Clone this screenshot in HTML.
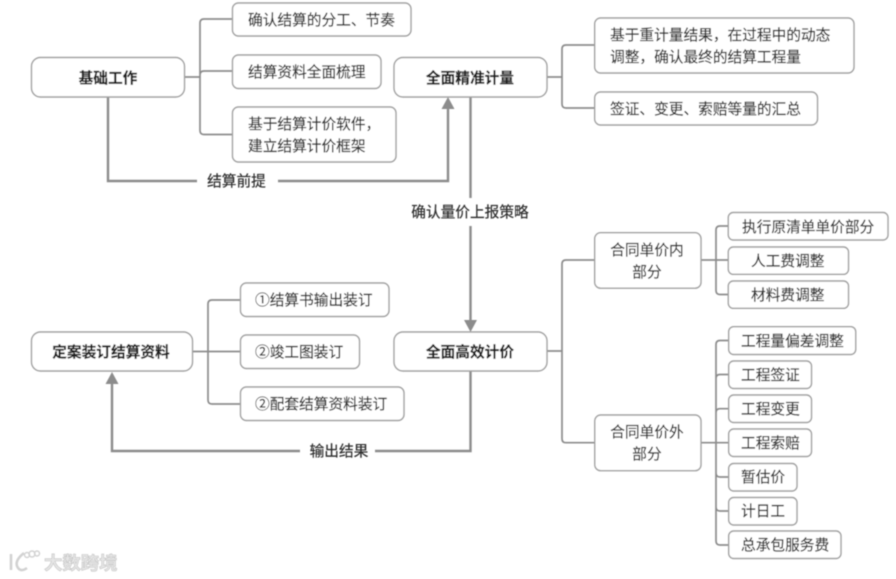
<!DOCTYPE html>
<html lang="zh"><head><meta charset="utf-8">
<style>
html,body{margin:0;padding:0;background:#fff;width:896px;height:579px;overflow:hidden}
svg{display:block}
text{font-family:"Liberation Sans","Noto Sans CJK SC",sans-serif;font-size:14.7px;fill:#2e2e2e;stroke:#2e2e2e;stroke-width:.2;text-anchor:middle;dominant-baseline:central;transform:translateY(1.2px)}
.b{font-weight:700;fill:#1c1c1c}
.l{text-anchor:start}
rect{fill:#fff;stroke:#a0a0a0;stroke-width:1.4}
.c{fill:none;stroke:#8c8c8c;stroke-width:1.7}
.a{fill:none;stroke:#8c8c8c;stroke-width:2.4}
.h{fill:#8c8c8c}
</style></head><body>
<svg width="896" height="579" viewBox="0 0 896 579" xmlns="http://www.w3.org/2000/svg">
<defs><filter id="s" x="-2%" y="-2%" width="104%" height="104%"><feGaussianBlur stdDeviation="0.45"/></filter></defs>
<g filter="url(#s)">
<!-- connectors -->
<path class="c" d="M184.5 77H200M232.5 19H204Q200 19 200 23V130.5Q200 134.5 204 134.5H232.5M232.5 71H204Q200 71 200 75V77"/>
<path class="c" d="M547 77H562M594.7 45H566Q562 45 562 49V104Q562 108 566 108H594.7"/>
<path class="c" d="M547 351H562M594.7 260H566Q562 260 562 264V438.7Q562 442.7 566 442.7H594.7"/>
<path class="c" d="M701 260H728.3M728.3 226H720Q716 226 716 230V290.5Q716 294.5 720 294.5H728.3"/>
<path class="c" d="M701 442.7H728.7M728.7 340.5H720Q716 340.5 716 344.5V541Q716 545 720 545H728.7M728.7 374.5H720Q716 374.5 716 378.5M728.7 408.7H720Q716 408.7 716 412.7M728.7 477H720Q716 477 716 473M728.7 511H720Q716 511 716 507"/>
<path class="c" d="M192.5 351.5H240.5M240.5 300H212Q208 300 208 304V400Q208 404 212 404H240.5"/>
<!-- arrows -->
<path class="a" d="M108 97V181H197M278 181H448V108"/>
<polygon class="h" points="448,97 441.5,109 454.5,109"/>
<path class="a" d="M470.5 97V198M470.5 226V321"/>
<polygon class="h" points="470.5,332 464,320 477,320"/>
<path class="a" d="M470.5 371V451H375M300 451H112V383"/>
<polygon class="h" points="112,372 105.5,384 118.5,384"/>
<!-- boxes -->
<rect x="31.5" y="57.5" width="153" height="39.5" rx="9"/>
<rect x="232.5" y="3" width="178.5" height="33" rx="6"/>
<rect x="232.5" y="55" width="148.5" height="33.5" rx="6"/>
<rect x="232.5" y="107" width="163.5" height="55" rx="6"/>
<rect x="394" y="57.5" width="153" height="39.5" rx="9"/>
<rect x="594.7" y="18" width="259.3" height="55" rx="6"/>
<rect x="594.7" y="92" width="222.8" height="33" rx="6"/>
<rect x="594.7" y="232.7" width="106.3" height="55.5" rx="6"/>
<rect x="728.3" y="212.5" width="159.7" height="27.5" rx="5"/>
<rect x="728.3" y="247" width="120.2" height="27.3" rx="5"/>
<rect x="728.3" y="281" width="120.2" height="27.3" rx="5"/>
<rect x="31.5" y="332" width="161" height="39" rx="9"/>
<rect x="394" y="332" width="153" height="39" rx="9"/>
<rect x="240.5" y="283" width="148.5" height="33.5" rx="6"/>
<rect x="240.5" y="335" width="119" height="33.5" rx="6"/>
<rect x="240.5" y="387" width="163.5" height="33.5" rx="6"/>
<rect x="594.8" y="415" width="106.2" height="55.7" rx="6"/>
<rect x="728.7" y="326.7" width="127" height="27.8" rx="5"/>
<rect x="728.7" y="361" width="82.8" height="27.5" rx="5"/>
<rect x="728.7" y="395" width="82.8" height="27.5" rx="5"/>
<rect x="728.7" y="429" width="82.8" height="27.5" rx="5"/>
<rect x="728.7" y="463.5" width="68.3" height="27.5" rx="5"/>
<rect x="728.7" y="497.5" width="68.3" height="27.5" rx="5"/>
<rect x="728.7" y="531" width="112.3" height="27.5" rx="5"/>
<!-- text -->
<text class="b" x="108" y="78">基础工作</text>
<text class="l" x="248" y="20">确认结算的分工、节奏</text>
<text class="l" x="248" y="72">结算资料全面梳理</text>
<text class="l" x="248" y="124">基于结算计价软件，</text>
<text class="l" x="248" y="146">建立结算计价框架</text>
<text class="b" x="470" y="78">全面精准计量</text>
<text class="l" x="610" y="35">基于重计量结果，在过程中的动态</text>
<text class="l" x="610" y="57">调整，确认最终的结算工程量</text>
<text class="l" x="610" y="109">签证、变更、索赔等量的汇总</text>
<text x="647" y="250">合同单价内</text>
<text x="647" y="272">部分</text>
<text class="l" x="742" y="227">执行原清单单价部分</text>
<text class="l" x="751" y="261">人工费调整</text>
<text class="l" x="751" y="295">材料费调整</text>
<text class="b" x="111" y="352">定案装订结算资料</text>
<text class="b" x="470" y="352">全面高效计价</text>
<text class="l" x="255" y="300">①结算书输出装订</text>
<text class="l" x="255" y="352">②竣工图装订</text>
<text class="l" x="255" y="404">②配套结算资料装订</text>
<text x="647" y="432">合同单价外</text>
<text x="647" y="454">部分</text>
<text class="l" x="741" y="341">工程量偏差调整</text>
<text class="l" x="741" y="375">工程签证</text>
<text class="l" x="741" y="409">工程变更</text>
<text class="l" x="741" y="443">工程索赔</text>
<text class="l" x="741" y="477">暂估价</text>
<text class="l" x="741" y="511">计日工</text>
<text class="l" x="741" y="545">总承包服务费</text>
<text x="236.500" y="181">结算前提</text>
<text x="470" y="212">确认量价上报策略</text>
<text x="339" y="451">输出结果</text>
<!-- watermark -->
<g fill="none" stroke="#d2d2d2" stroke-width="2.6">
<path d="M11 554V570"/>
<path d="M24 553Q15 560 17 566Q20 573 27 568"/>
<circle cx="27" cy="555" r="2.5" stroke-width="1.4"/>
<circle cx="32" cy="554" r="3" stroke-width="1.4"/>
<circle cx="37" cy="553.500" r="2.500" stroke-width="1.4"/>
</g>
<text class="l" x="44" y="562" style="font-size:18.400px;fill:#e6e6e6;stroke:#c4c4c4;stroke-width:.6;font-weight:700">大数跨境</text>
</g>
</svg>
</body></html>
